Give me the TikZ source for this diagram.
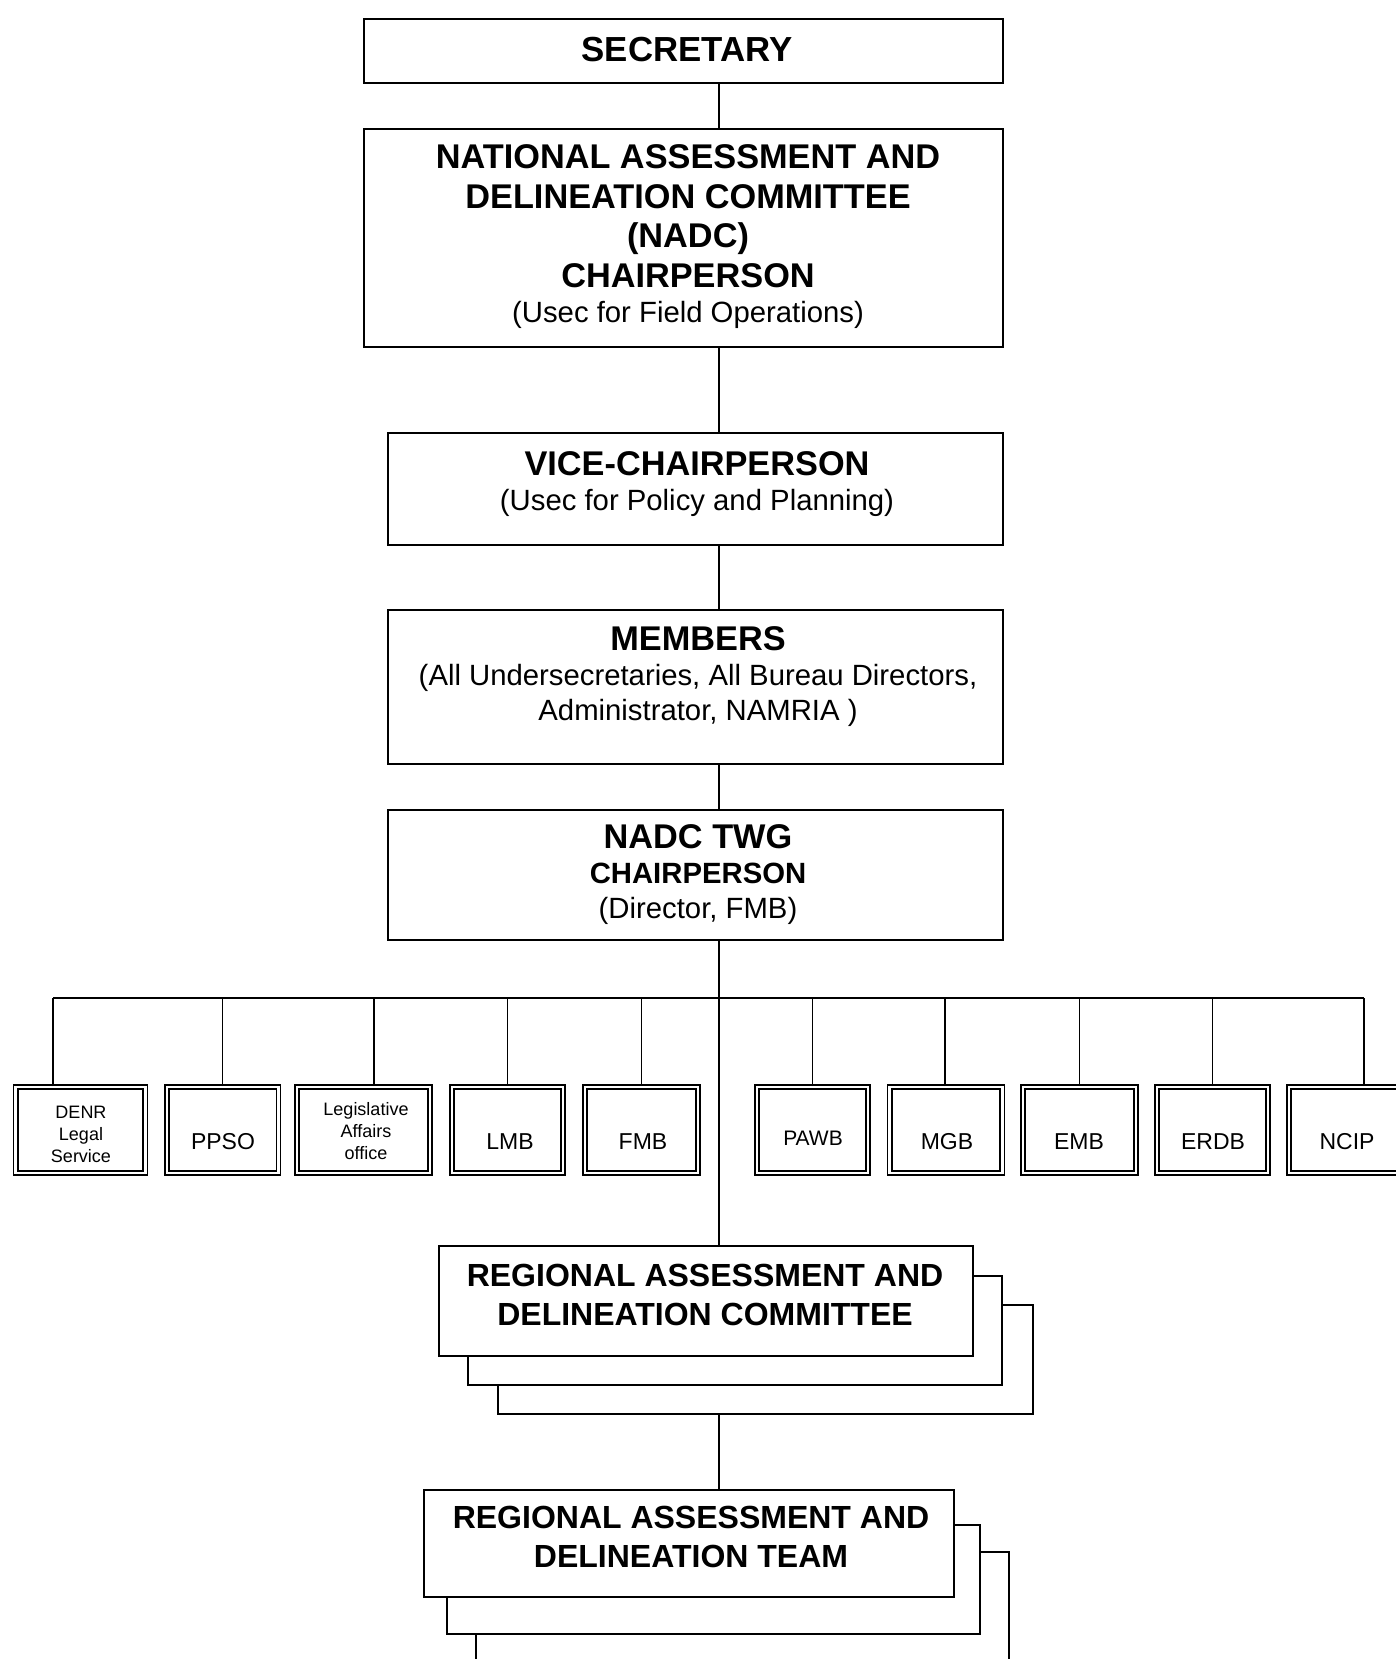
\documentclass[tikz,border=0pt]{standalone}
\usepackage{fontspec}
\setmainfont{Liberation Sans}
\begin{document}
\begin{tikzpicture}[x=1pt,y=-1pt,
  box/.style={draw, line width=1.6pt, fill=white, inner sep=0pt, rectangle},
  backbox/.style={draw, line width=1.4pt, fill=white, inner sep=0pt, rectangle},
  sbox/.style={draw, double, line width=1.6pt, double distance=2.6pt, fill=white, inner sep=0pt, rectangle, minimum height=86.2pt},
  link/.style={draw, line width=1.4pt},
  txt/.style={inner sep=0pt, align=center, font=\fontsize{34.3}{39.5}\selectfont},
  reg/.style={inner sep=0pt, align=center, font=\fontsize{29.3}{35}\selectfont},
  stxt/.style={inner sep=0pt, align=center, font=\fontsize{23}{26}\selectfont},
  tiny/.style={inner sep=0pt, align=center, font=\fontsize{18}{22}\selectfont}]
\useasboundingbox (0,0) rectangle (1396,1659);

% main column of boxes
\node[box, minimum width=639pt, minimum height=64pt] (sec) at (683.5,51) {};
\node[box, minimum width=639pt, minimum height=218pt] (nadc) at (683.5,238) {};
\node[box, minimum width=615pt, minimum height=112pt] (vice) at (695.5,489) {};
\node[box, minimum width=615pt, minimum height=154pt] (mem) at (695.5,687) {};
\node[box, minimum width=615pt, minimum height=130pt] (twg) at (695.5,875) {};

\node[txt] (tsec) at (687,50) {\fontsize{34.8}{40}\selectfont\bfseries SECRETARY};
\node[txt] (tnadc) at (688,237) {\bfseries NATIONAL ASSESSMENT AND\\\bfseries DELINEATION COMMITTEE\\\bfseries (NADC)\\\bfseries CHAIRPERSON\\[-4pt]{\fontsize{29.3}{35}\selectfont (Usec for Field Operations)}};
\node[txt] (tvice) at (697,484) {\bfseries VICE-CHAIRPERSON\\[-4pt]{\fontsize{29.3}{35}\selectfont (Usec for Policy and Planning)}};
\node[reg] (tmem) at (698,677) {{\fontsize{34.3}{38}\selectfont\bfseries MEMBERS}\\(All Undersecretaries, All Bureau Directors,\\Administrator, NAMRIA )};
\node[reg] (ttwg) at (698,875) {{\fontsize{34.3}{38}\selectfont\bfseries NADC TWG}\\\bfseries CHAIRPERSON\\(Director, FMB)};

% main vertical line position
\coordinate (v) at (719,0);
\draw[link] (sec.south -| v) -- (nadc.north -| v);
\draw[link] (nadc.south -| v) -- (vice.north -| v);
\draw[link] (vice.south -| v) -- (mem.north -| v);
\draw[link] (mem.south -| v) -- (twg.north -| v);

% small boxes row
\node[sbox, minimum width=129.7pt] (s1) at (80.5,1130) {};
\node[sbox, minimum width=111.7pt] (s2) at (222.7,1130) {};
\node[sbox, minimum width=133.2pt] (s3) at (363.5,1130) {};
\node[sbox, minimum width=111.2pt] (s4) at (507.5,1130) {};
\node[sbox, minimum width=113.2pt] (s5) at (641.5,1130) {};
\node[sbox, minimum width=111.2pt] (s6) at (812.5,1130) {};
\node[sbox, minimum width=112.7pt] (s7) at (946,1130) {};
\node[sbox, minimum width=113.2pt] (s8) at (1079.5,1130) {};
\node[sbox, minimum width=111.2pt] (s9) at (1212.5,1130) {};
\node[sbox, minimum width=111.2pt] (s10) at (1344.5,1130) {};

\node[tiny] (l1) at (81,1134) {DENR\\Legal\\Service};
\node[stxt] (l2) at (223,1142) {PPSO};
\node[tiny] (l3) at (366,1131) {Legislative\\Affairs\\office};
\node[stxt] (l4) at (510,1142) {LMB};
\node[stxt] (l5) at (643,1142) {FMB};
\node[stxt, font=\fontsize{21}{24}\selectfont] (l6) at (813,1138) {PAWB};
\node[stxt] (l7) at (947,1142) {MGB};
\node[stxt] (l8) at (1079,1142) {EMB};
\node[stxt] (l9) at (1213,1142) {ERDB};
\node[stxt] (l10) at (1347,1142) {NCIP};

% bus and drops
\coordinate (busL) at (53,998);
\coordinate (d1) at ([xshift=-27.5pt]s1.north);
\coordinate (d2) at (s2.north);
\coordinate (d3) at ([xshift=10.5pt]s3.north);
\coordinate (d4) at (s4.north);
\coordinate (d5) at (s5.north);
\coordinate (d6) at (s6.north);
\coordinate (d7) at ([xshift=-1pt]s7.north);
\coordinate (d8) at (s8.north);
\coordinate (d9) at (s9.north);
\coordinate (d10) at ([xshift=19.5pt]s10.north);
\draw[link] (d1 |- busL) -- (d10 |- busL);
\foreach \d in {d1,d2,d3,d4,d5,d6,d7,d8,d9,d10}
  \draw[link] (\d) -- (\d |- busL);

% regional committee stack
\node[backbox, minimum width=535pt, minimum height=109pt] (radc3) at (765.5,1359.5) {};
\node[backbox, minimum width=534pt, minimum height=109pt] (radc2) at (735,1330.5) {};
\node[box, minimum width=534pt, minimum height=110pt] (radc) at (706,1301) {};
\node[txt] (tradc) at (705,1295) {\fontsize{32}{36}\selectfont\bfseries REGIONAL ASSESSMENT AND\\\fontsize{32}{36}\selectfont\bfseries DELINEATION COMMITTEE};

\draw[link] (twg.south -| v) -- (radc.north -| v);

% regional team stack
\coordinate (t3a) at (476,1659);
\draw[backbox] (t3a) -- (476,1552) -- (1009,1552) -- (1009,1659);
\node[backbox, minimum width=533pt, minimum height=109pt] (radt2) at (713.5,1579.5) {};
\node[box, minimum width=530pt, minimum height=107pt] (radt) at (689,1543.5) {};
\node[txt] (tradt) at (691,1537) {\fontsize{32}{36}\selectfont\bfseries REGIONAL ASSESSMENT AND\\\fontsize{32}{36}\selectfont\bfseries DELINEATION TEAM};

\draw[link] (radc3.south -| v) -- (radt.north -| v);
\end{tikzpicture}
\end{document}
